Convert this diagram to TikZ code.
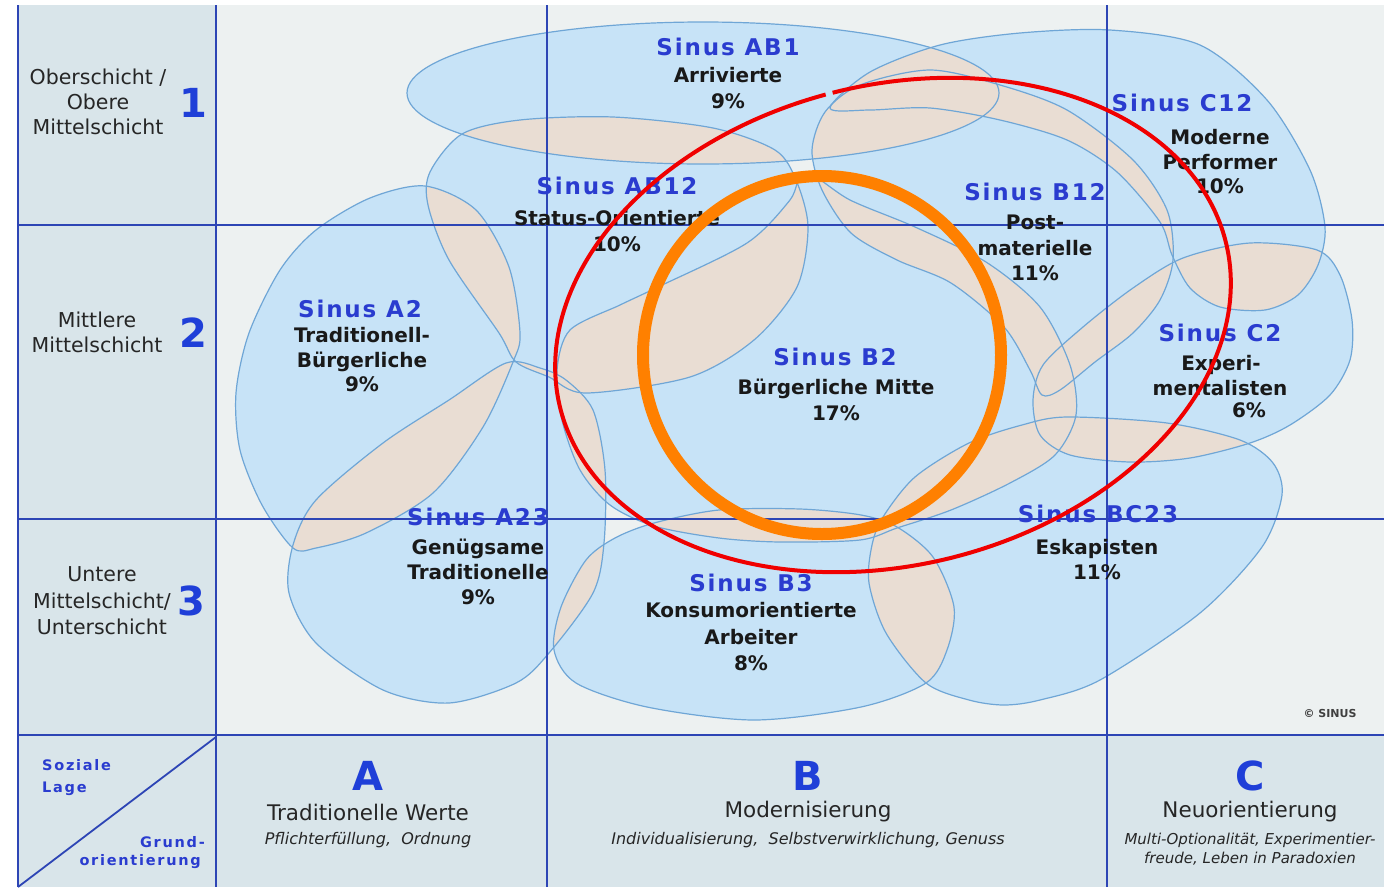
\documentclass[tikz,border=0pt]{standalone}
\usepackage{fontspec}
\setmainfont{DejaVu Sans}
\newfontfamily\lblfont[LetterSpace=8]{DejaVu Sans}
\newfontfamily\cornerfont[LetterSpace=12]{DejaVu Sans}
\definecolor{blobblue}{HTML}{C7E3F7}
\definecolor{overlapbeige}{HTML}{E9DDD3}
\definecolor{blobedge}{HTML}{6FA6D6}
\definecolor{gridblue}{HTML}{2D45B5}
\definecolor{bgmain}{HTML}{EDF1F1}
\definecolor{bgside}{HTML}{D9E5EA}
\definecolor{sinusblue}{HTML}{2A3CCF}
\definecolor{numblue}{HTML}{1F3FD8}
\definecolor{ringred}{HTML}{F00000}
\definecolor{ringorange}{HTML}{FF8000}

% milieu outlines
\def\sbA{(703,93) ellipse [x radius=296, y radius=71]}
\def\sbB{plot[smooth cycle] coordinates {(430,172) (462,134) (520,120) (613,117) (713,128) (775,150) (796,180) (808,227) (797,287) (754,340) (690,377) (586,393) (549,377) (516,362) (499,333) (449,260) (428,205)}}
\def\sbC{plot[smooth cycle] coordinates {(293,548) (262,505) (240,450) (236,393) (249,333) (280,270) (316,230) (370,198) (425,186) (476,210) (509,267) (520,333) (513,362) (483,427) (433,493) (366,533) (316,548)}}
\def\sbD{plot[smooth cycle] coordinates {(293,545) (289,593) (316,643) (383,690) (449,703) (516,683) (549,653) (593,593) (604,543) (605,470) (593,410) (566,380) (540,368) (506,363) (449,400) (383,443) (316,500)}}
\def\sbE{plot[smooth cycle] coordinates {(805,172) (850,200) (915,227) (986,262) (1040,307) (1070,365) (1076,415) (1055,455) (1010,483) (951,510) (897,528) (860,540) (780,542) (719,538) (654,526) (610,505) (580,470) (562,420) (557,370) (570,330) (620,305) (658,287) (747,243) (790,200)}}
\def\sbF{plot[smooth cycle] coordinates {(822,190) (812,150) (825,112) (860,85) (930,70) (1000,85) (1067,110) (1133,160) (1167,210) (1173,260) (1160,300) (1133,333) (1095,362) (1060,390) (1042,395) (1030,370) (1004,327) (951,283) (897,260) (851,233)}}
\def\sbG{plot[smooth cycle] coordinates {(830,108) (870,72) (940,45) (1020,33) (1110,30) (1200,45) (1267,100) (1310,170) (1325,227) (1318,265) (1298,295) (1265,310) (1220,307) (1190,288) (1172,255) (1160,222) (1117,172) (1067,140) (1000,120) (930,108) (870,110)}}
\def\sbH{plot[smooth cycle] coordinates {(1183,258) (1250,243) (1317,250) (1340,275) (1352,320) (1350,360) (1330,395) (1290,425) (1250,443) (1190,458) (1130,462) (1070,455) (1040,435) (1033,400) (1043,365) (1083,327) (1133,288)}}
\def\sbI{plot[smooth cycle] coordinates {(883,517) (915,477) (969,443) (1022,425) (1067,417) (1167,423) (1240,440) (1273,463) (1282,495) (1262,547) (1200,613) (1100,680) (1040,700) (1004,705) (969,700) (926,683) (886,633) (869,583) (872,545)}}
\def\sbJ{plot[smooth cycle] coordinates {(654,523) (719,510) (800,509) (861,515) (897,527) (933,557) (954,607) (947,650) (926,683) (861,707) (754,720) (647,707) (576,683) (554,650) (561,607) (586,560) (615,538)}}

\begin{document}
\begin{tikzpicture}[x=1pt,y=-1pt,
  gridline/.style={draw=gridblue, line width=1.8pt},
  blobline/.style={draw=blobedge, line width=1.2pt},
  sinus/.style={text=sinusblue, font=\lblfont\bfseries\fontsize{23}{26}\selectfont, inner sep=0pt},
  milieu/.style={text=black!90, font=\bfseries\fontsize{20}{25.5}\selectfont, align=center, inner sep=0pt},
  rowlabel/.style={text=black!85, font=\fontsize{20.5}{25}\selectfont, align=center, inner sep=0pt},
  bignum/.style={text=numblue, font=\bfseries\fontsize{40}{40}\selectfont, inner sep=0pt},
  colhead/.style={text=black!85, font=\fontsize{21.5}{24}\selectfont, inner sep=0pt},
  colsub/.style={text=black!85, font=\itshape\fontsize{16}{19}\selectfont, align=center, inner sep=0pt},
  corner/.style={text=sinusblue, font=\cornerfont\bfseries\fontsize{14.5}{24}\selectfont, inner sep=0pt},
]
\useasboundingbox (0,0) rectangle (1384,887);
\fill[white] (0,0) rectangle (1384,887);

% background cells
\fill[bgside] (18,5) rectangle (216,735);
\fill[bgmain] (216,5) rectangle (1384,735);
\fill[bgside] (18,735) rectangle (1384,887);

% milieu areas
\foreach \p in {A,B,C,D,E,F,G,H,I,J}{
  \expandafter\let\expandafter\cura\csname sb\p\endcsname
  \fill[blobblue] \cura;
}
% overlaps between milieus
\foreach \p [count=\ip] in {A,B,C,D,E,F,G,H,I,J}{
  \foreach \q [count=\iq] in {A,B,C,D,E,F,G,H,I,J}{
    \ifnum\iq>\ip
      \expandafter\let\expandafter\cura\csname sb\p\endcsname
      \expandafter\let\expandafter\curb\csname sb\q\endcsname
      \begin{scope}
        \clip \cura;
        \fill[overlapbeige] \curb;
      \end{scope}
    \fi
  }
}
\foreach \p in {A,B,C,D,E,F,G,H,I,J}{
  \expandafter\let\expandafter\cura\csname sb\p\endcsname
  \path[blobline] \cura;
}

% grid
\draw[gridline] (18,5) -- (18,887);
\draw[gridline] (216,5) -- (216,887);
\draw[gridline] (547,5) -- (547,887);
\draw[gridline] (1107,5) -- (1107,887);
\draw[gridline] (18,225) -- (1384,225);
\draw[gridline] (18,519) -- (1384,519);
\draw[gridline] (18,735) -- (1384,735);
\draw[gridline] (18,887) -- (216,737);

% row labels
\node[rowlabel] (r1) at (98,102) {Oberschicht /\\Obere\\Mittelschicht};
\node[bignum] (n1) at (193,103) {1};
\node[rowlabel] (r2) at (97,332) {Mittlere\\Mittelschicht};
\node[bignum] (n2) at (193,333) {2};
\node[rowlabel, font=\fontsize{20.5}{26.5}\selectfont] (r3) at (102,601) {Untere\\Mittelschicht/\\Unterschicht};
\node[bignum] (n3) at (191,601) {3};

% corner
\node[corner, anchor=west] (soz) at (42,765) {Soziale};
\node[corner, anchor=west] (lage) at (42,789) {Lage};
\node[corner, anchor=east] (grund) at (205,842) {Grund-};
\node[corner, anchor=east] (orient) at (201,862) {orientierung};

% column heads
\node[bignum] (ca) at (368,776) {A};
\node[colhead] (cat) at (368,812) {Traditionelle Werte};
\node[colsub] (cas) at (368,840) {Pflichterfüllung,\ \ Ordnung};
\node[bignum] (cb) at (808,776) {B};
\node[colhead] (cbt) at (808,812) {Modernisierung};
\node[colsub] (cbs) at (808,840) {Individualisierung,\ \ Selbstverwirklichung,\ Genuss};
\node[bignum] (cc) at (1250,776) {C};
\node[colhead] (cct) at (1250,812) {Neuorientierung};
\node[colsub, font=\itshape\fontsize{15}{19}\selectfont] (ccs) at (1250,849) {Multi-Optionalität, Experimentier-\\freude, Leben in Paradoxien};

% milieu labels
\node[sinus] (ab1) at (728,47) {Sinus AB1};
\node[milieu] (ab1t) at (728,88) {Arrivierte\\9\%};
\node[sinus] (ab12) at (617,186) {Sinus AB12};
\node[milieu] (ab12t) at (617,231) {Status-Orientierte\\10\%};
\node[sinus] (c12) at (1182,103) {Sinus C12};
\node[milieu, font=\bfseries\fontsize{20}{24.5}\selectfont] (c12t) at (1220,162) {Moderne\\Performer\\10\%};
\node[sinus] (b12) at (1035,192) {Sinus B12};
\node[milieu] (b12t) at (1035,248) {Post-\\materielle\\11\%};
\node[sinus] (a2) at (360,309) {Sinus A2};
\node[milieu, font=\bfseries\fontsize{20}{24.5}\selectfont] (a2t) at (362,360) {Traditionell-\\Bürgerliche\\9\%};
\node[sinus] (b2) at (835,357) {Sinus B2};
\node[milieu] (b2t) at (836,400) {Bürgerliche Mitte\\17\%};
\node[sinus] (c2) at (1220,333) {Sinus C2};
\node[milieu] (c2a) at (1221,365) {Experi-};
\node[milieu] (c2b) at (1220,388) {mentalisten};
\node[milieu] (c2c) at (1249,410) {6\%};
\node[sinus] (a23) at (478,517) {Sinus A23};
\node[milieu, font=\bfseries\fontsize{20}{25}\selectfont] (a23t) at (478,572) {Genügsame\\Traditionelle\\9\%};
\node[sinus] (b3) at (751,583) {Sinus B3};
\node[milieu, font=\bfseries\fontsize{20}{26.5}\selectfont] (b3t) at (751,637) {Konsumorientierte\\Arbeiter\\8\%};
\node[sinus] (bc23) at (1098,514) {Sinus BC23};
\node[milieu, font=\bfseries\fontsize{20}{25}\selectfont] (bc23t) at (1097,560) {Eskapisten\\11\%};

\node[text=black!75, font=\bfseries\fontsize{11}{11}\selectfont, inner sep=0pt] (copy) at (1330,713) {© SINUS};

% highlight rings (the red one is left open by a hair at its top)
\begin{scope}[rotate around={14:(893,325)}]
  \draw[ringred, line width=4pt] plot[smooth, domain=269.6:628.4, samples=240, variable=\t] ({893+343*cos(\t)},{325+240*sin(\t)});
\end{scope}
\draw[ringorange, line width=12pt] (822,355) circle [radius=179];
\end{tikzpicture}
\end{document}
